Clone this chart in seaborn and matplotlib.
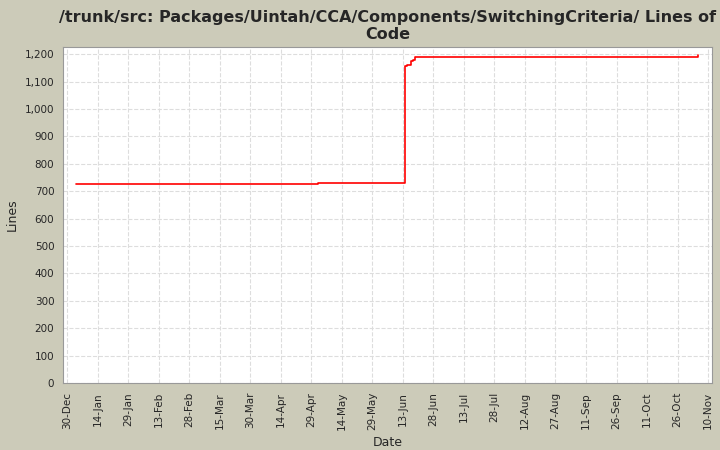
import pandas as pd
import matplotlib
matplotlib.use('Agg')
import matplotlib.pyplot as plt
import matplotlib.dates as mdates
import matplotlib.ticker as mticker
import seaborn as sns

# data (step series)
dates = ['2009-01-03', '2009-05-02', '2009-06-14', '2009-06-14', '2009-06-15',
         '2009-06-17', '2009-06-18', '2009-06-19', '2009-11-04', '2009-11-05']
lines = [726, 730, 730, 1155, 1160, 1175, 1180, 1190, 1190, 1198]

df = pd.DataFrame({'date': pd.to_datetime(dates), 'lines': lines})

sns.set_style("whitegrid", {'grid.linestyle': '--', 'grid.color': '#dddddd'})
plt.rcParams['font.family'] = ['DejaVu Sans']

fig, ax = plt.subplots(figsize=(7.2, 4.5), dpi=100)
fig.patch.set_facecolor('#cccbb9')
ax.set_facecolor('white')

ax.step(df['date'], df['lines'], where='post', color='red', linewidth=1.2)

ax.set_xlim(pd.Timestamp('2008-12-28'), pd.Timestamp('2009-11-12'))
ax.set_ylim(0, 1225)
ax.yaxis.set_major_locator(mticker.MultipleLocator(100))
ax.yaxis.set_major_formatter(mticker.FuncFormatter(lambda v, p: f'{int(v):,}'))
ticks = pd.date_range('2008-12-30', '2009-11-10', freq='15D')
ax.set_xticks(ticks)
ax.xaxis.set_major_formatter(mdates.DateFormatter('%d-%b'))
plt.setp(ax.get_xticklabels(), rotation=90)
ax.tick_params(labelsize=7.5, length=3, color='gray')
for s in ax.spines.values():
    s.set_color('#999999')

ax.set_xlabel('Date', fontsize=9)
ax.set_ylabel('Lines', fontsize=9)
ax.set_title('/trunk/src: Packages/Uintah/CCA/Components/SwitchingCriteria/ Lines of\nCode',
             fontsize=11.5, fontweight='bold')

plt.subplots_adjust(left=0.088, right=0.989, top=0.895, bottom=0.149)
plt.savefig('out.png', dpi=100, facecolor=fig.get_facecolor())
